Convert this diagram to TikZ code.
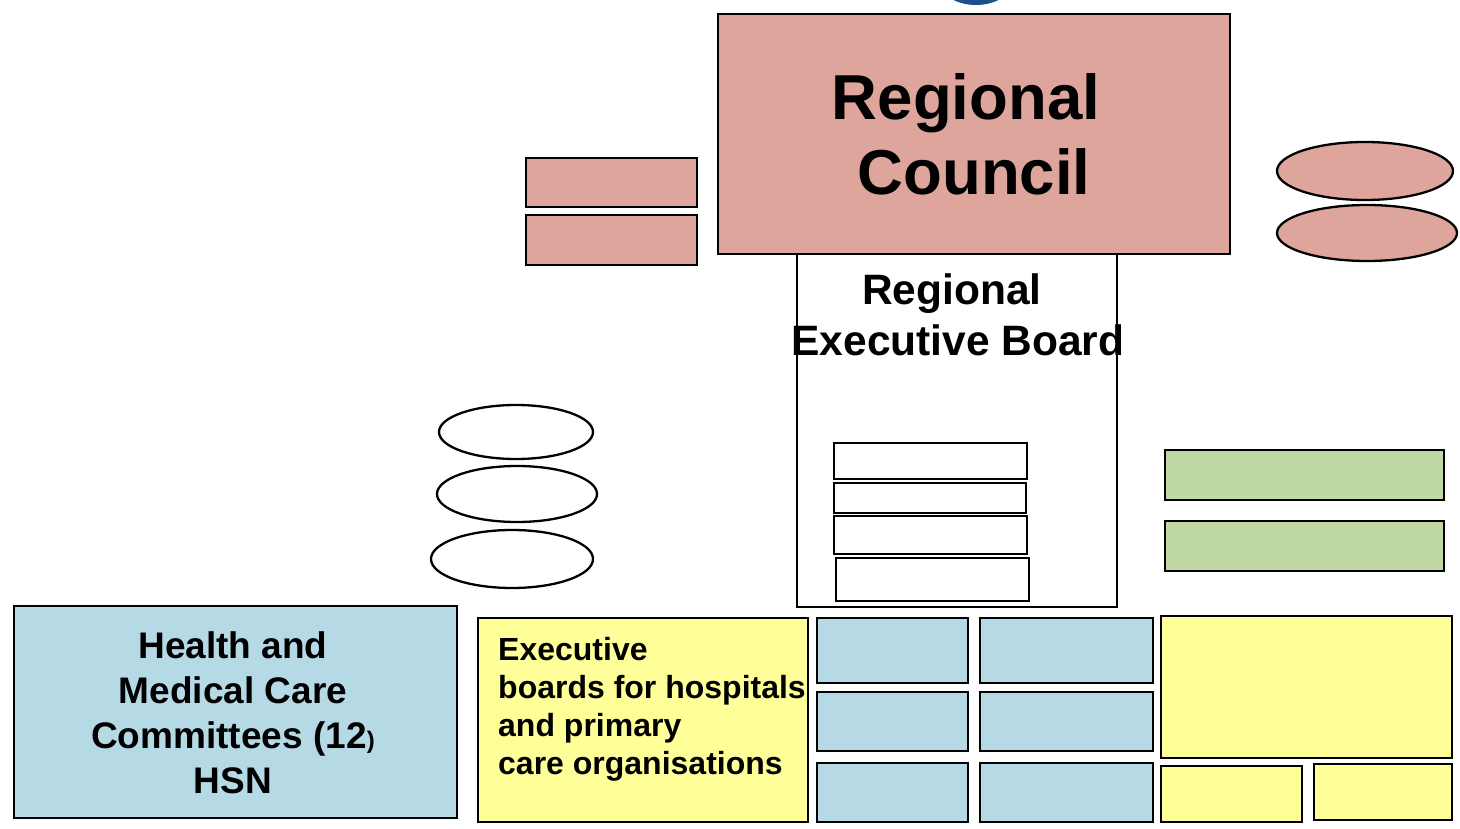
\documentclass[tikz,border=0pt]{standalone}
\usepackage{fontspec}
\setmainfont{Liberation Sans}
\usetikzlibrary{shapes.geometric}
\definecolor{pinkc}{HTML}{DDA59C}
\definecolor{bluec}{HTML}{B6D9E6}
\definecolor{greenc}{HTML}{C0D8A4}
\definecolor{yellc}{HTML}{FFFF99}
\definecolor{navy}{HTML}{1F4E8C}
\tikzset{
  box/.style={draw=black, line width=2.7pt, rectangle, inner sep=0pt},
  oval/.style={draw=black, line width=2.3pt, ellipse, inner sep=0pt},
  lbl/.style={font=\bfseries, align=center, inner sep=0pt},
}
\newcommand{\bx}[6]{% name, fill, x1, y1, x2, y2
  \node[box, fill=#2, minimum width={#5-#3}, minimum height={#6-#4}] (#1) at ({(#3+#5)/2},{(#4+#6)/2}) {};}
\begin{document}
\begin{tikzpicture}[x=1pt, y=-1pt]
\useasboundingbox (0,0) rectangle (1460,829);
% top arc
\begin{scope}
\clip (0,0) rectangle (1460,829);
\node[ellipse, fill=navy, minimum width=72pt, minimum height=46pt, inner sep=0pt] (arc) at (976,-18) {};
\end{scope}
% Regional council
\bx{rc}{pinkc}{718}{14}{1230}{254}
\node[lbl, anchor=base, font=\bfseries\fontsize{63.5}{75}\selectfont] (rct1) at (966,120) {Regional};
\node[lbl, anchor=base, font=\bfseries\fontsize{63.5}{75}\selectfont] (rct2) at (974,195) {Council};
% pink small boxes
\bx{p1}{pinkc}{526}{158}{697}{207}
\bx{p2}{pinkc}{526}{215}{697}{265}
% pink ellipses
\node[oval, fill=pinkc, minimum width=176pt, minimum height=58pt] (e1) at (1365,171) {};
\node[oval, fill=pinkc, minimum width=180pt, minimum height=56pt] (e2) at (1367,233) {};
% Regional executive board
\bx{reb}{white}{797}{254}{1117}{607}
\node[lbl, anchor=base, font=\bfseries\fontsize{42.5}{50}\selectfont] (rebt1) at (952,305) {Regional};
\node[lbl, anchor=base, font=\bfseries\fontsize{42.5}{50}\selectfont] (rebt2) at (958,355) {Executive Board};
\bx{w1}{white}{834}{443}{1027}{479}
\bx{w2}{white}{834}{483}{1026}{513}
\bx{w3}{white}{834}{516}{1027}{554}
\bx{w4}{white}{836}{558}{1029}{601}
% white ellipses
\node[oval, fill=white, minimum width=154pt, minimum height=54pt] (o1) at (516,432) {};
\node[oval, fill=white, minimum width=160pt, minimum height=56pt] (o2) at (517,494) {};
\node[oval, fill=white, minimum width=162pt, minimum height=58pt] (o3) at (512,559) {};
% green
\bx{g1}{greenc}{1165}{450}{1444}{500}
\bx{g2}{greenc}{1165}{521}{1444}{571}
% HSN
\bx{hsn}{bluec}{14}{606}{457}{818}
\node[lbl, font=\bfseries\fontsize{37}{45}\selectfont] (hsnt) at (233,713) {Health and\\Medical Care\\Committees (12{\fontsize{24}{24}\selectfont)}\\HSN};
% exec boards
\bx{eb}{yellc}{478}{618}{808}{822}
\node[lbl, align=left, anchor=north west, font=\bfseries\fontsize{32}{38}\selectfont] (ebt) at (498,637) {Executive\\boards for hospitals\\and primary\\care organisations};
% blue grid
\bx{b11}{bluec}{817}{618}{968}{683}
\bx{b12}{bluec}{980}{618}{1153}{683}
\bx{b21}{bluec}{817}{692}{968}{751}
\bx{b22}{bluec}{980}{692}{1153}{751}
\bx{b31}{bluec}{817}{763}{968}{822}
\bx{b32}{bluec}{980}{763}{1153}{822}
% yellow right
\bx{y1}{yellc}{1161}{616}{1452}{758}
\bx{y2}{yellc}{1161}{766}{1302}{822}
\bx{y3}{yellc}{1314}{764}{1452}{820}
\end{tikzpicture}
\end{document}
